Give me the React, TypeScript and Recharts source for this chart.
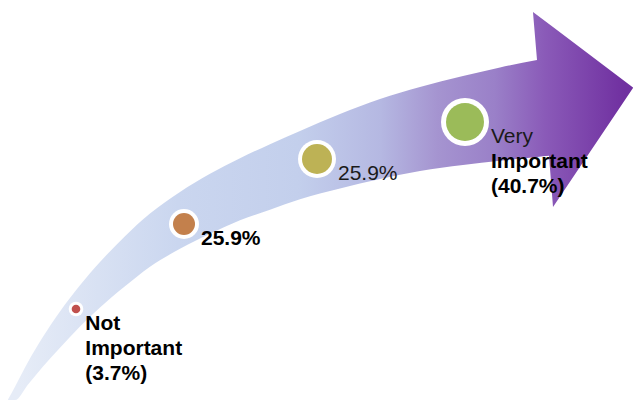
import React from 'react';
import { ComposedChart, Area, Scatter, XAxis, YAxis } from 'recharts';

const categories = ['Not Important', '', '', 'Very Important'];
const shares = [3.7, 25.9, 25.9, 40.7];

// where each stage sits along the arrow (chart coords, y grows downward)
const stageX = [76, 184, 317, 465];
const stageY = [309, 224, 159, 122];

// arrow outline, shaft as a ranged area plus the head
const shaftX = [8, 15, 28, 43, 60, 80, 100, 125, 150, 180, 210, 240, 270, 300, 340, 380, 420, 463, 500, 537, 549];
const shaftTop = [399.5, 386.7, 362, 336.8, 311.4, 285.2, 262, 236.2, 213.6, 192, 173.8, 158.2, 144.2, 131, 114, 99, 87, 76, 67.5, 60, 58];
const shaftBottom = [400, 400, 384.4, 366.4, 347.7, 326.5, 307.5, 286.3, 266.8, 248.8, 233.8, 220.3, 209.8, 199.3, 188.5, 179.1, 171.1, 165.1, 160.7, 157, 155.8];
const headX = [533, 537, 549, 553, 633];
const headTop = [12, 15, 24, 27, 87.5];
const headBottom = [12.5, 60, 156, 207, 88];

const dotColors = ['#c0504d', '#c3804c', '#bdb255', '#9bbb59'];
const dotRadius = [4.3, 11, 15, 19];
const ringWidth = [3, 4, 4, 5];
const labelWeight = [['bold', 'bold', 'bold'], ['bold'], ['normal'], ['normal', 'bold', 'bold']];

const W = 634;
const H = 400;

const shaftData = shaftX.map((x, i) => ({ x, band: [shaftTop[i], shaftBottom[i]] }));
const headData = headX.map((x, i) => ({ x, band: [headTop[i], headBottom[i]] }));
const stageData = shares.map((share, i) => ({
  x: stageX[i],
  y: stageY[i],
  share,
  category: categories[i],
  idx: i,
}));

const StageDot = (props: any) => {
  const { cx, cy, payload } = props;
  const i = payload.idx;
  const r = dotRadius[i];
  const outer = r + ringWidth[i];
  const lines = payload.category
    ? [...payload.category.split(' '), `(${payload.share}%)`]
    : [`${payload.share}%`];
  const tx = cx + outer + 2;
  return (
    <g>
      <circle cx={cx} cy={cy} r={outer} fill="#ffffff" />
      <circle cx={cx} cy={cy} r={r} fill={dotColors[i]} />
      {lines.map((t: string, k: number) => (
        <text
          key={k}
          x={tx}
          y={cy + 21 + k * 25}
          fontFamily="Liberation Sans, Arial, sans-serif"
          fontSize={21}
          fontWeight={labelWeight[i][k]}
          fill={labelWeight[i][k] === 'bold' ? '#000' : '#1a1a1a'}
        >
          {t}
        </text>
      ))}
    </g>
  );
};

export default function App() {
  return (
    <div style={{ position: 'absolute', left: 0, top: 0, width: W, height: H, background: '#fff' }}>
      <ComposedChart width={W} height={H} margin={{ top: 0, right: 0, bottom: 0, left: 0 }}>
        <defs>
          <linearGradient id="arrowGrad" gradientUnits="userSpaceOnUse" x1={0} y1={0} x2={W} y2={0}>
            <stop offset="0.03" stopColor="#e6ecf7" />
            <stop offset="0.28" stopColor="#cad6ef" />
            <stop offset="0.47" stopColor="#c3cfec" />
            <stop offset="0.6" stopColor="#b5b8e2" />
            <stop offset="0.69" stopColor="#a594d0" />
            <stop offset="0.78" stopColor="#9a80c8" />
            <stop offset="0.86" stopColor="#8a5ab8" />
            <stop offset="0.985" stopColor="#7030a0" />
          </linearGradient>
        </defs>
        <XAxis type="number" dataKey="x" domain={[0, W]} allowDataOverflow hide />
        <YAxis type="number" dataKey="y" domain={[0, H]} allowDataOverflow reversed hide />
        <Area
          data={shaftData}
          dataKey="band"
          type="monotone"
          stroke="none"
          fill="url(#arrowGrad)"
          fillOpacity={1}
          dot={false}
          activeDot={false}
          isAnimationActive={false}
        />
        <Area
          data={headData}
          dataKey="band"
          type="linear"
          stroke="none"
          fill="url(#arrowGrad)"
          fillOpacity={1}
          dot={false}
          activeDot={false}
          isAnimationActive={false}
        />
        <Scatter data={stageData} shape={StageDot} isAnimationActive={false} />
      </ComposedChart>
    </div>
  );
}
